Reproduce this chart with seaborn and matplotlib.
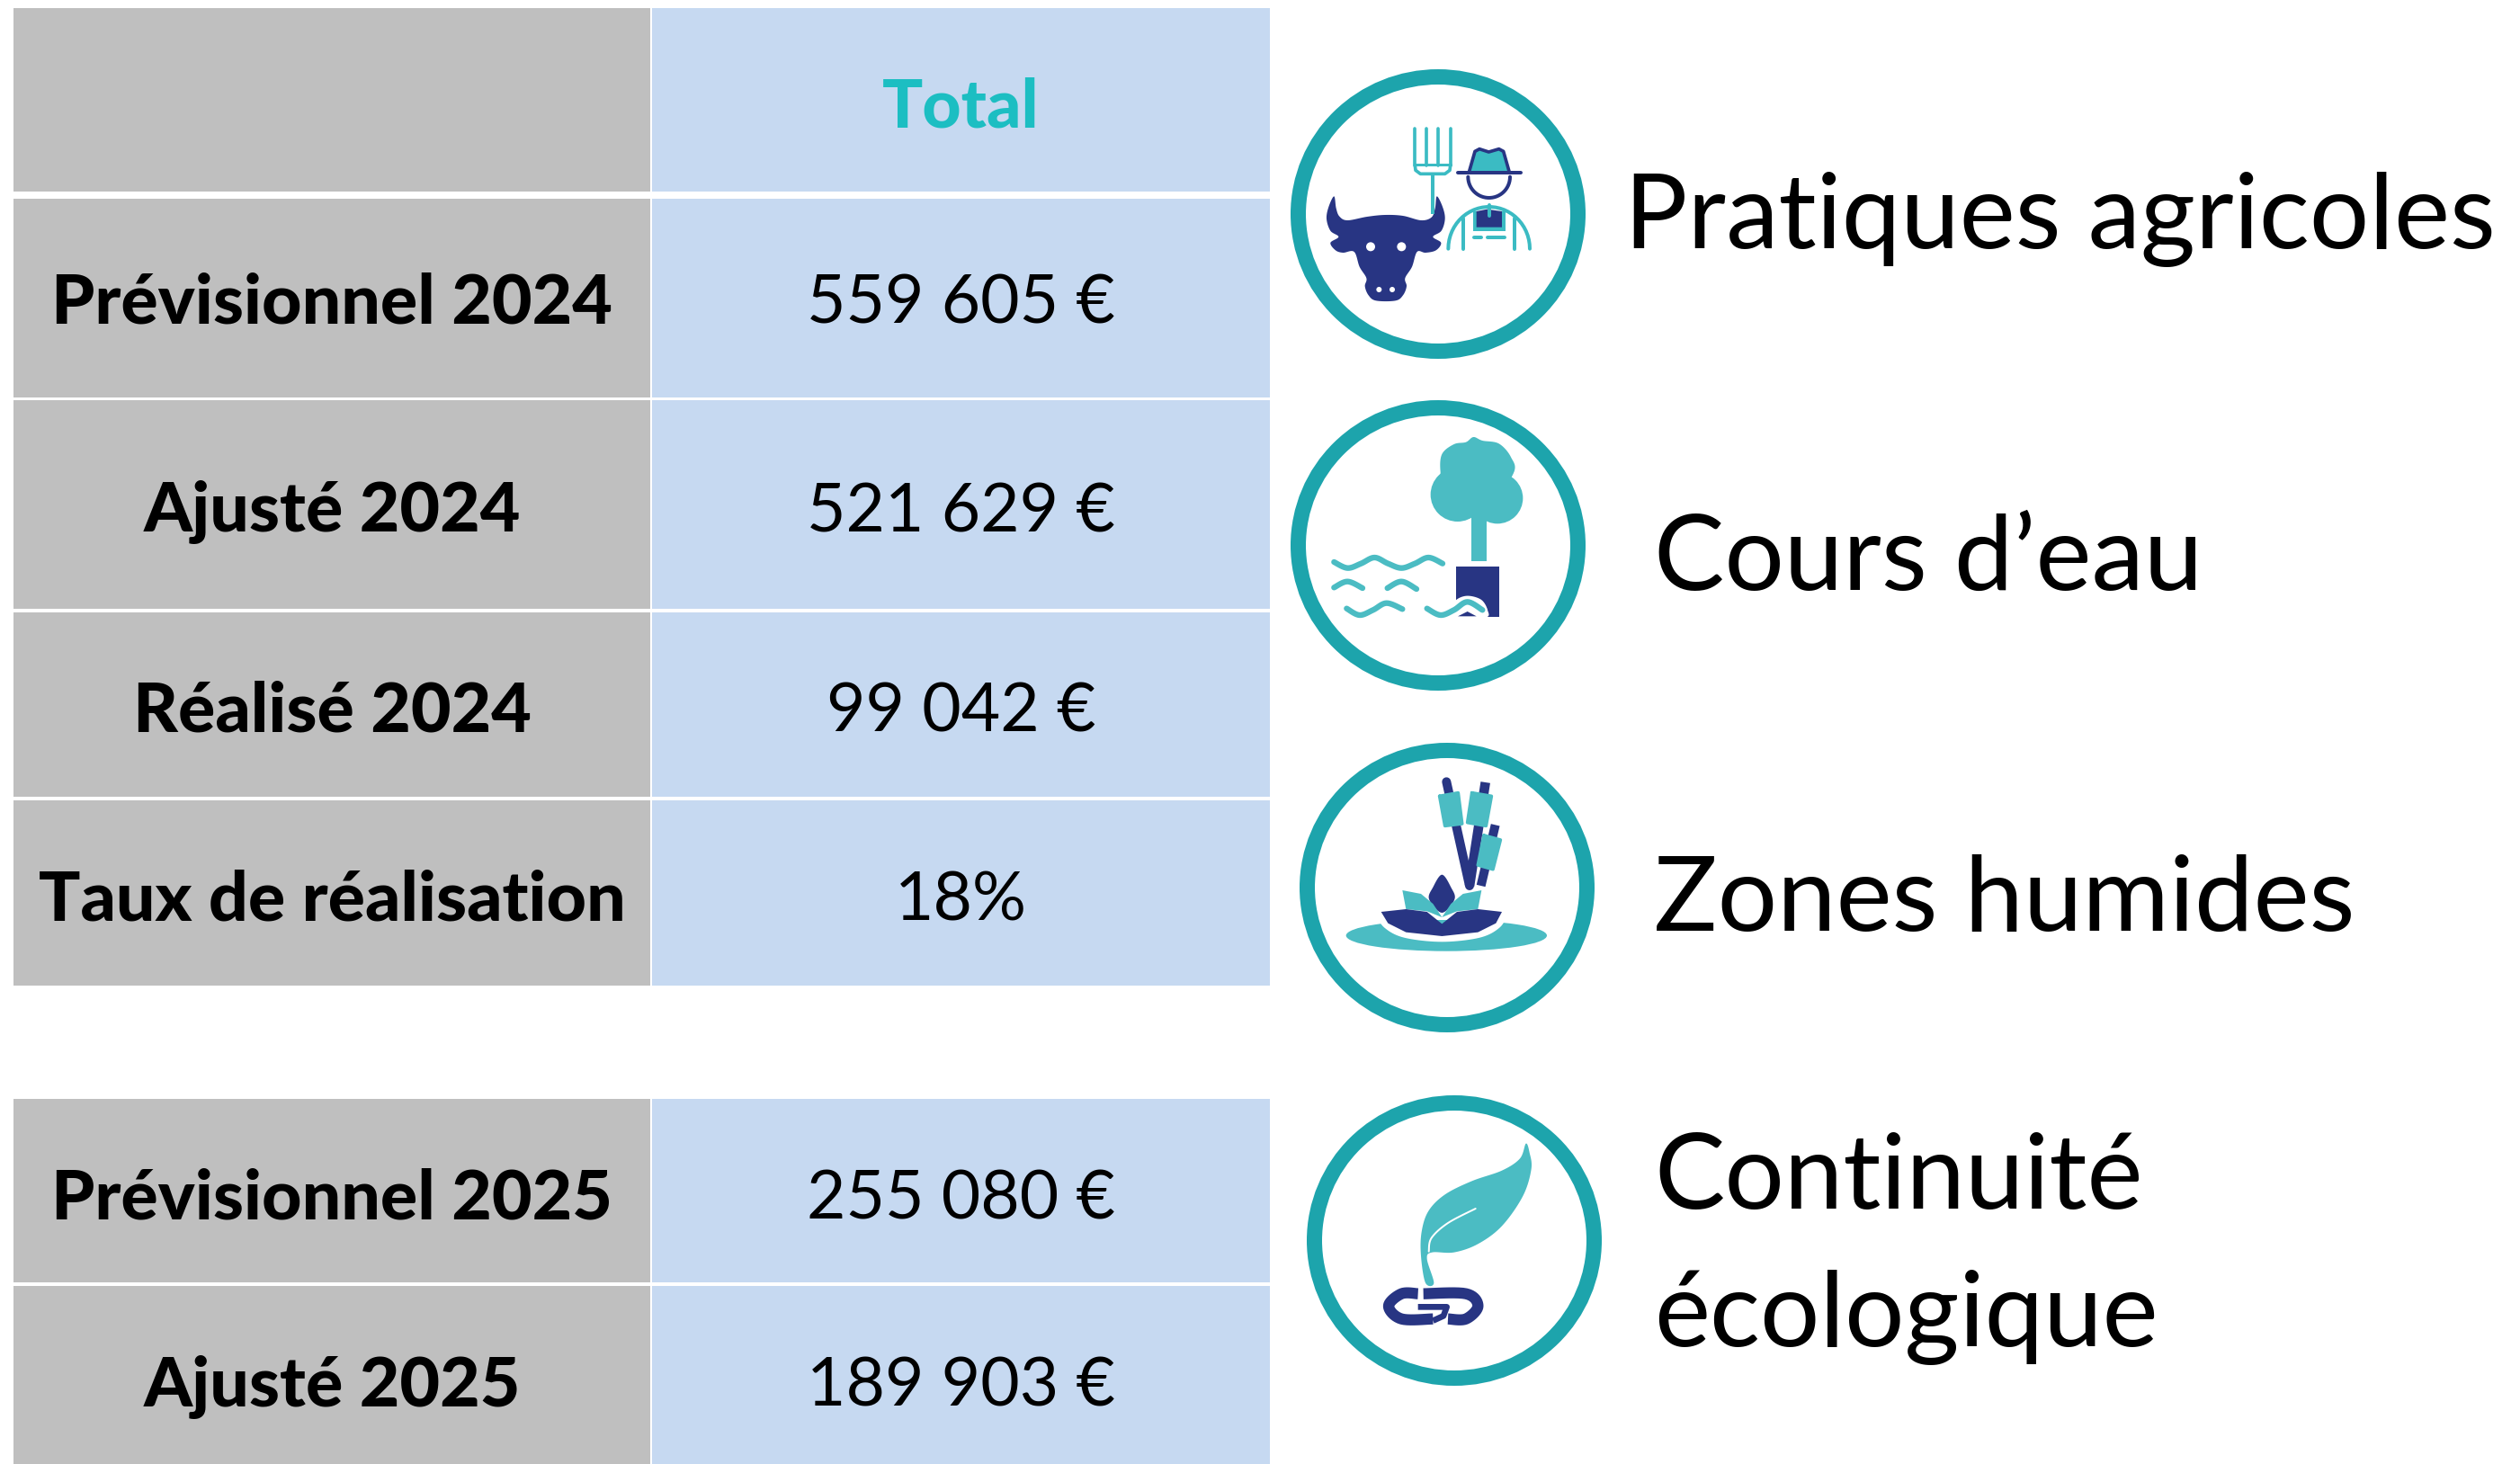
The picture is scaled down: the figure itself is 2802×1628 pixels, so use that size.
import numpy as np
import pandas as pd
import seaborn as sns
import matplotlib.pyplot as plt
from matplotlib.colors import ListedColormap
from matplotlib.patches import Circle, Ellipse, Polygon, Rectangle

# --- data ---
row_labels = ["", "Prévisionnel 2024", "Ajusté 2024", "Réalisé 2024", "Taux de réalisation",
              "Prévisionnel 2025", "Ajusté 2025"]
row_values = ["Total", "559 605 €", "521 629 €", "99 042 €", "18%", "255 080 €", "189 903 €"]
theme_labels = ["Pratiques agricoles", "Cours d’eau", "Zones humides", "Continuité", "écologique"]

# --- layout, in pixels of the 2802x1628 picture ---
W, H = 2802, 1628
DPI = 100
row_tops = [9, 221, 445, 681, 890, 1222, 1430]
row_bottoms = [213, 442, 677, 886, 1096, 1426, 1628]
row_baselines = [141, 359, 591, 813, 1023, 1355, 1564]
col_lefts = [15, 725]
col_rights = [723, 1412]
theme_x = [1806, 1839, 1839, 1839, 1839]
theme_baselines = [276, 656, 1035, 1344, 1497]

GREY = "#BFBFBF"
BLUE = "#C6D9F1"
TOTAL = "#1CBEC2"
RING = "#1DA4AC"
NAVY = "#283583"
TEAL = "#4BBCC3"
FORK = "#3BBBC3"

sns.set_theme(style="white")
plt.rcParams["font.family"] = ["Lato", "DejaVu Sans"]

fig = plt.figure(figsize=(W / DPI, H / DPI), dpi=DPI, facecolor="white")


def cell(col, row, text, colour, **text_kws):
    top, bottom = row_tops[row], row_bottoms[row]
    left, right = col_lefts[col], col_rights[col]
    ax = fig.add_axes([left / W, 1 - bottom / H, (right - left) / W, (bottom - top) / H])
    sns.heatmap(
        pd.DataFrame([[1]]), ax=ax, cmap=ListedColormap([colour]), cbar=False,
        annot=np.array([[text]]), fmt="", xticklabels=False, yticklabels=False,
        annot_kws={"va": "baseline", "ha": "center", **text_kws},
    )
    for t in ax.texts:
        t.set_y((row_baselines[row] - top) / (bottom - top))


for i, (label, value) in enumerate(zip(row_labels, row_values)):
    cell(0, i, label, GREY, color="black", fontweight="black", fontsize=55.5)
    if i == 0:
        cell(1, i, value, BLUE, color=TOTAL, fontweight="black", fontsize=54)
    else:
        cell(1, i, value, BLUE, color="black", fontsize=54)

# overlay in pixel coordinates for the pictograms and the theme names
over = fig.add_axes([0, 0, 1, 1], facecolor="none")
over.set_xlim(0, W)
over.set_ylim(H, 0)
over.axis("off")

for name, x, y in zip(theme_labels, theme_x, theme_baselines):
    over.text(x, y, name, fontsize=84.5, color="black", va="baseline", ha="left")


def spline(pts, closed=False, n=10):
    # catmull-rom through the given points
    p = np.asarray(pts, dtype=float)
    if closed:
        p = np.vstack([p[-1], p, p[0], p[1]])
    else:
        p = np.vstack([p[0], p, p[-1]])
    out = []
    for i in range(1, len(p) - 2):
        for s in np.linspace(0, 1, n, endpoint=False):
            out.append(0.5 * (2 * p[i] + (p[i + 1] - p[i - 1]) * s
                              + (2 * p[i - 1] - 5 * p[i] + 4 * p[i + 1] - p[i + 2]) * s ** 2
                              + (3 * p[i] - p[i - 1] - 3 * p[i + 1] + p[i + 2]) * s ** 3))
    if not closed:
        out.append(p[-2])
    return np.array(out)


class Icon:
    # coordinates below are the 3x crop pixels of each pictogram
    def __init__(self, x0, y0):
        self.x0, self.y0 = x0, y0

    def xy(self, pts):
        return np.asarray(pts, dtype=float) / 3 + [self.x0, self.y0]

    def blob(self, pts, colour, smooth=True, z=3):
        p = spline(pts, closed=True) if smooth else pts
        over.add_patch(Polygon(self.xy(p), closed=True, fc=colour, ec="none", zorder=z))

    def line(self, pts, colour, width, smooth=False, cap="round", z=3):
        p = self.xy(spline(pts) if smooth else pts)
        over.plot(p[:, 0], p[:, 1], color=colour, lw=width / 3 * 72 / DPI,
                  solid_capstyle=cap, solid_joinstyle="round", zorder=z)

    def dot(self, x, y, r, colour, z=4):
        c = self.xy([(x, y)])[0]
        over.add_patch(Circle(c, r / 3, fc=colour, ec="none", zorder=z))

    def rect(self, x1, y1, x2, y2, colour, z=3):
        a = self.xy([(x1, y1)])[0]
        b = self.xy([(x2, y2)])[0]
        over.add_patch(Rectangle(a, b[0] - a[0], b[1] - a[1], fc=colour, ec="none", zorder=z))


def ring(x1, x2, y1, y2):
    over.add_patch(Ellipse(((x1 + x2) / 2, (y1 + y2) / 2), x2 - x1 - 17, y2 - y1 - 17,
                           fc="white", ec=RING, lw=17 * 72 / DPI, zorder=2))


# pratiques agricoles
ring(1435, 1763, 77, 399)
ic = Icon(1420, 60)
ic.blob([(190, 475), (197, 515), (208, 542), (235, 555), (300, 543), (360, 537), (420, 540),
         (480, 555), (515, 545), (527, 515), (533, 475), (552, 510), (560, 550), (548, 590),
         (520, 610), (547, 630), (530, 655), (495, 663), (467, 660), (450, 710), (427, 748),
         (432, 775), (420, 805), (395, 823), (330, 823), (305, 805), (293, 775), (298, 748),
         (275, 710), (257, 660), (220, 663), (195, 655), (178, 630), (205, 610), (178, 590),
         (165, 550), (172, 510)], NAVY)
for x, y, r in [(312, 643, 15), (415, 643, 15), (340, 786, 9), (384, 786, 9)]:
    ic.dot(x, y, r, "white")
for x in (460, 498, 538, 578):
    ic.line([(x, 250), (x, 372)], FORK, 11)
ic.line([(460, 368), (578, 368)], FORK, 9)
ic.line([(460, 372), (462, 388), (478, 400), (560, 400), (576, 388), (578, 372)], FORK, 11)
ic.line([(520, 400), (520, 535)], FORK, 12, cap="butt")
ic.blob([(640, 395), (660, 325), (675, 317), (706, 327), (740, 317), (755, 325), (775, 395)],
        FORK, smooth=False)
ic.line([(640, 395), (660, 325), (675, 317), (706, 327), (740, 317), (755, 325), (775, 395)],
        NAVY, 11)
ic.line([(602, 397), (813, 397)], NAVY, 12)
a = np.linspace(0, np.pi, 30)
ic.line(np.c_[707 + 70 * np.cos(a), 410 + 70 * np.sin(a)], NAVY, 12)
ic.line(np.c_[707 + 136 * np.cos(a), 650 - 140 * np.sin(a)], FORK, 12)
for x in (622, 793):
    ic.line([(x, 650), (x, 550)], FORK, 12)
ic.rect(654, 525, 762, 592, FORK)
ic.blob([(665, 525), (700, 518), (750, 525), (750, 578), (665, 578)], NAVY, smooth=False, z=4)
ic.line([(707, 505), (707, 540)], FORK, 12, z=5)
ic.line([(657, 612), (680, 612)], FORK, 12)
ic.line([(702, 612), (758, 612)], FORK, 12)

# cours d'eau
ring(1435, 1763, 445, 768)
ic = Icon(1420, 430)
ic.blob([(545, 285), (550, 225), (590, 192), (630, 185), (655, 168), (685, 180), (740, 190),
         (780, 235), (788, 290), (700, 400), (560, 350)], TEAL)
ic.dot(602, 360, 90, TEAL, z=3)
ic.dot(735, 372, 85, TEAL, z=3)
ic.rect(647, 400, 698, 583, TEAL)
ic.rect(596, 600, 741, 767, NAVY)
wave_w = 19
ic.line([(190, 585), (235, 605), (280, 590), (325, 570), (370, 590), (415, 605), (460, 590),
         (505, 570), (552, 590)], TEAL, wave_w, smooth=True)
ic.line([(190, 670), (235, 650), (285, 672)], TEAL, wave_w, smooth=True)
ic.line([(368, 672), (415, 650), (465, 675)], TEAL, wave_w, smooth=True)
ic.line([(232, 740), (275, 762), (320, 745), (365, 722), (418, 742)], TEAL, wave_w, smooth=True)
ic.blob([(590, 720), (630, 698), (680, 710), (702, 745), (695, 770), (590, 770)], "white", z=4)
ic.blob([(603, 766), (635, 750), (665, 766)], NAVY, smooth=False, z=5)
ic.line([(500, 740), (545, 762), (590, 745), (635, 718), (685, 745)], "white", wave_w + 12,
        smooth=True, z=5)
ic.line([(500, 740), (545, 762), (590, 745), (635, 718), (685, 745)], TEAL, wave_w,
        smooth=True, z=6)

# zones humides
ring(1445, 1773, 826, 1148)
ic = Icon(1430, 810)
ic.line([(535, 178), (612, 525)], NAVY, 30)
ic.line([(665, 180), (612, 525)], NAVY, 32, cap="butt")
ic.line([(698, 322), (650, 525)], NAVY, 30, cap="butt")
for quad in ([(512, 226), (574, 215), (587, 318), (530, 325)],
             [(620, 215), (685, 226), (667, 325), (605, 314)],
             [(660, 357), (715, 372), (690, 470), (640, 456)]):
    ic.blob(quad, TEAL, smooth=False, z=4)
    ic.line(quad + quad[:1], TEAL, 11, z=4)
ic.blob([(520, 488), (550, 530), (562, 570), (520, 615), (477, 570), (490, 530)], NAVY, z=4)
ic.blob([(388, 540), (450, 552), (490, 585), (520, 630), (470, 610), (400, 603)], TEAL,
        smooth=False, z=5)
ic.blob([(652, 540), (590, 552), (550, 585), (520, 630), (570, 610), (640, 603)], TEAL,
        smooth=False, z=5)
c = ic.xy([(535, 691)])[0]
over.add_patch(Ellipse(c, 670 / 3, 104 / 3, fc=TEAL, ec="none", zorder=3))
lily = [(317, 612), (400, 603), (470, 612), (520, 652), (570, 612), (640, 603), (720, 612),
        (700, 650), (640, 680), (520, 693), (400, 680), (340, 650)]
ic.line(lily[6:] + [lily[0]], "white", 38, smooth=True, z=4)
ic.blob(lily, NAVY, smooth=False, z=6)

# continuite ecologique
ring(1453, 1781, 1218, 1541)
ic = Icon(1430, 1200)
ic.blob([(800, 215), (780, 265), (720, 305), (620, 340), (530, 385), (475, 440), (452, 510),
         (450, 590), (465, 680), (493, 680), (470, 600), (487, 578), (560, 578), (640, 550),
         (720, 490), (790, 390), (818, 300), (812, 245)], TEAL)
ic.line([(476, 575), (485, 530), (540, 480), (632, 432)], "white", 6, smooth=True, z=4)
# left link with its hook, then the right link
ic.line([(440, 716), (385, 716), (342, 757), (385, 800), (490, 800)], NAVY, 37, smooth=True,
        cap="butt")
ic.line([(490, 806), (525, 790), (536, 760), (440, 760)], NAVY, 20, cap="butt")
ic.line([(458, 716), (600, 716), (640, 757), (600, 800), (540, 800)], NAVY, 37, smooth=True,
        cap="butt")

fig.savefig("out.png", dpi=DPI, facecolor="white")
